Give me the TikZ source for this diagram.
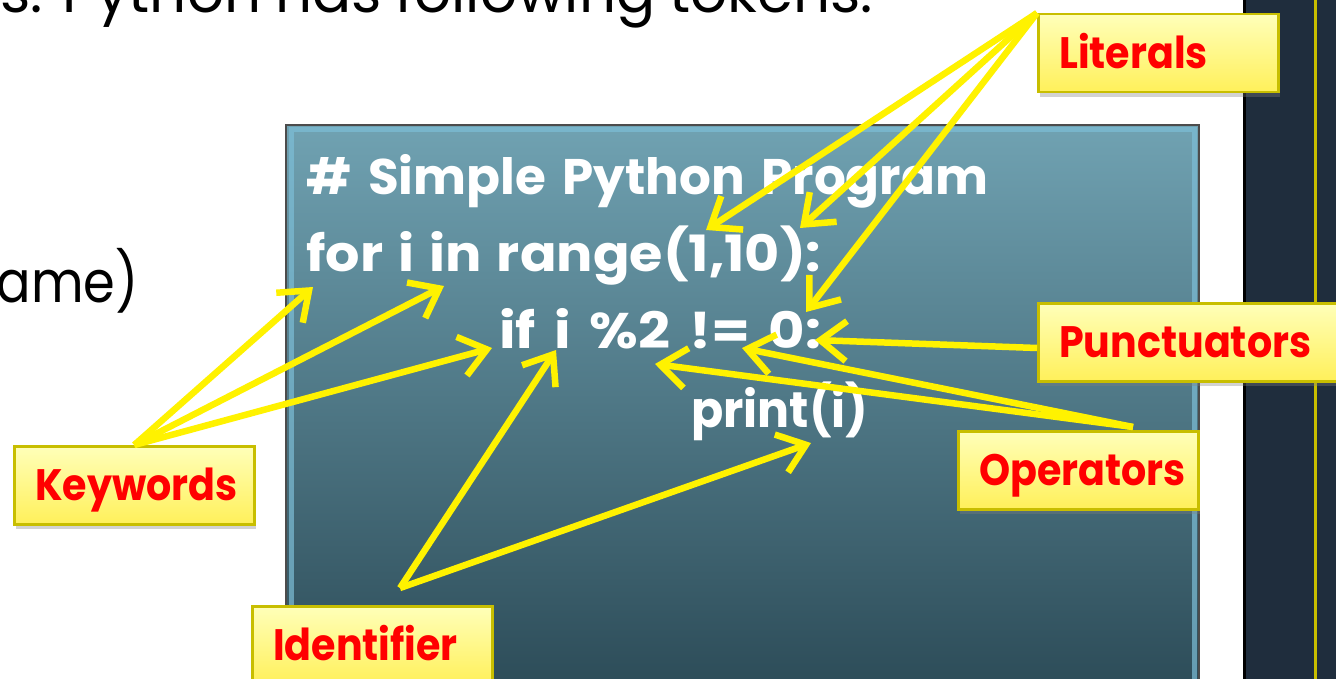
\documentclass[tikz,border=0pt]{standalone}
\usepackage{fontspec}
\setmainfont{Poppins}
\newfontfamily\codeA{Poppins}
\newfontfamily\codeB[FakeStretch=1.08]{Poppins}
\newfontfamily\codeC[FakeStretch=1.12]{Poppins}
\newfontfamily\codeD[FakeStretch=0.95]{Poppins}
\newfontfamily\narrowfont[FakeStretch=0.88]{Poppins}
\newfontfamily\lblfont[FakeStretch=0.9]{Poppins}
\usetikzlibrary{arrows.meta,shadows}
\definecolor{boxtop}{RGB}{112,162,178}
\definecolor{boxbot}{RGB}{40,70,82}
\definecolor{panel}{RGB}{31,45,61}
\definecolor{olive}{RGB}{200,190,0}
\definecolor{lbltop}{RGB}{255,255,185}
\definecolor{lblbot}{RGB}{255,240,90}
\definecolor{glow}{RGB}{125,190,215}
\begin{document}
\begin{tikzpicture}[x=1pt,y=1pt,
 lbl/.style={draw=olive, line width=2.5pt, top color=lbltop, bottom color=lblbot,
   text=red, font=\lblfont\bfseries\fontsize{44}{44}\selectfont, anchor=north west,
   minimum height=78pt, text height=31pt, text depth=0pt, inner xsep=21pt, inner ysep=0pt,
   align=left, text width=198pt,
   drop shadow={shadow xshift=2pt, shadow yshift=-5pt, opacity=0.35}},
 code/.style={text=white, anchor=base west, inner sep=0pt},
 plain/.style={text=black, font=\fontsize{58}{58}\selectfont, inner sep=0pt},
 arr/.style={draw=yellow, line width=6.5pt, -{Straight Barb[length=26pt,width=40pt]}},
]
\path[use as bounding box, clip] (0,-679) rectangle (1336,0);
\fill[white] (0,-679) rectangle (1336,0);
% right panel
\fill[panel] (1243,-679) rectangle (1336,0);
\draw[black, line width=3pt] (1244.5,0) -- (1244.5,-679);
\draw[olive, line width=3pt] (1315,0) -- (1315,-679);
% texts outside
\node[plain, anchor=base west] (title) at (0,-13) {\makebox[873pt][s]{s: Python has following tokens:}};
\node[plain, anchor=base east, font=\narrowfont\fontsize{58}{58}\selectfont] (ame) at (139,-302) {ame)};
% code box
\node[draw=black!70, line width=2pt, top color=boxtop, bottom color=boxbot,
  minimum width=913pt, minimum height=600pt, anchor=north west, inner sep=0pt] (codebox) at (285,-124) {};
\draw[glow, line width=5pt, opacity=0.7] ([shift={(6,-6)}]codebox.north west) rectangle ([shift={(-6,6)}]codebox.south east);
% code
\node[code, font=\codeA\bfseries\fontsize{50}{50}\selectfont] (l1) at (306,-195) {\makebox[682pt][s]{\# Simple Python Program}};
\node[code, font=\codeB\bfseries\fontsize{50}{50}\selectfont] (l2) at (306,-272) {\makebox[515pt][s]{for i in range(1,10):}};
\node[code, font=\codeC\bfseries\fontsize{50}{50}\selectfont] (l3) at (499,-348) {\makebox[322pt][s]{if i \%2 != 0:}};
\node[code, font=\codeD\bfseries\fontsize{50}{50}\selectfont] (l4) at (691,-427) {print(i)};
% labels
\node[lbl] (lit) at (1037,-13) {Literals};
\node[lbl, text width=290pt] (pun) at (1037,-302) {Punctuators};
\node[lbl] (op) at (957,-430) {Operators};
\node[lbl] (kw) at (13,-445) {Keywords};
\node[lbl] (id) at (251,-605) {Identifier};
% targets
\coordinate (tl1) at (706,-230);
\coordinate (tl2) at (800,-228);
\coordinate (tl3) at (806,-312);
\coordinate (tk1) at (313,-287);
\coordinate (tk2) at (444,-286);
\coordinate (tk3) at (492,-348);
\coordinate (ti1) at (556,-350);
\coordinate (ti2) at (811,-443);
\coordinate (to1) at (742,-348);
\coordinate (to2) at (655,-364);
\coordinate (tp1) at (815,-340);
\coordinate (idsrc) at (400,-588);
\coordinate (opsrc) at (1133,-427);
\coordinate (pusrc) at (1037,-348);
% arrows
\draw[arr] (lit.north west) -- (tl1);
\draw[arr] (lit.north west) -- (tl2);
\draw[arr] (lit.north west) -- (tl3);
\draw[arr] (kw.north) -- (tk1);
\draw[arr] (kw.north) -- (tk2);
\draw[arr] (kw.north) -- (tk3);
\draw[arr] (idsrc) -- (ti1);
\draw[arr] (idsrc) -- (ti2);
\draw[arr] (opsrc) -- (to1);
\draw[arr] (opsrc) -- (to2);
\draw[arr] (pusrc) -- (tp1);
\end{tikzpicture}
\end{document}
